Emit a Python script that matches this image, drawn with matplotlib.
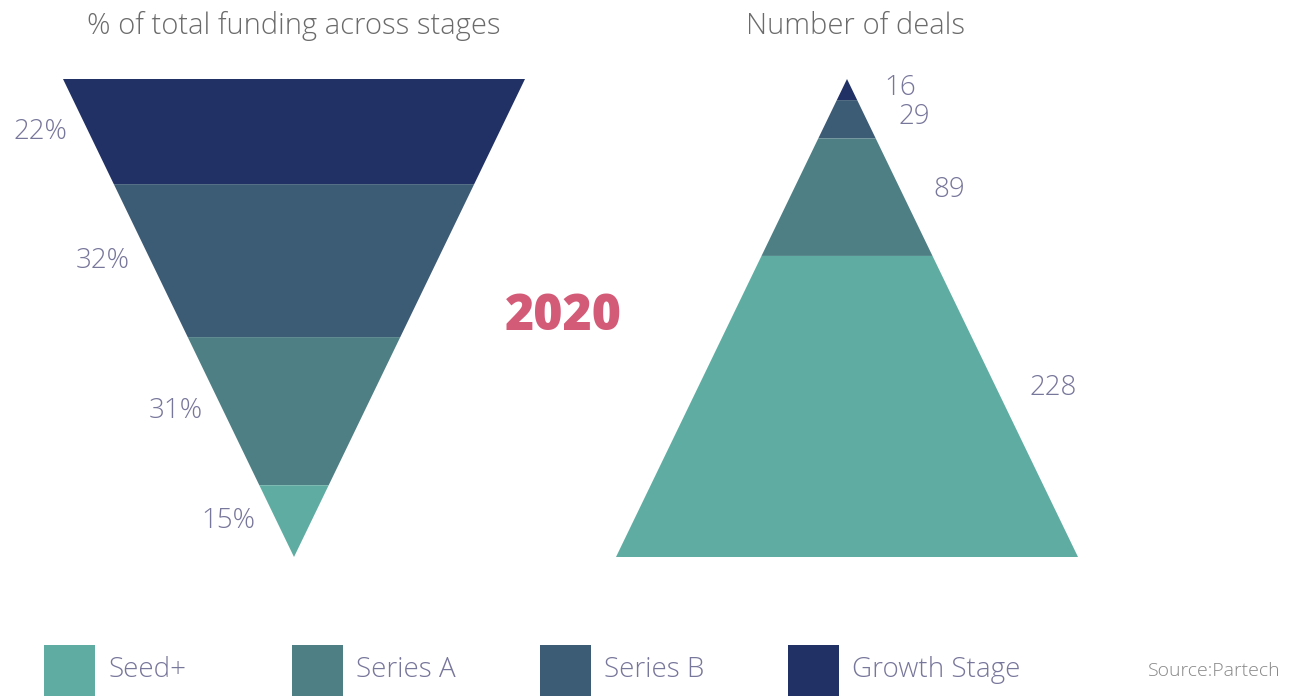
import matplotlib
matplotlib.use("Agg")
import matplotlib.pyplot as plt
import numpy as np

plt.rcParams['font.family'] = ['Open Sans', 'DejaVu Sans']

stages = ["Seed+", "Series A", "Series B", "Growth Stage"]
colors = ["#5fada2", "#4e7f85", "#3c5b74", "#213166"]
funding_pct = [15, 31, 32, 22]   # % of total funding
deals = [228, 89, 29, 16]        # number of deals

label_col = "#77769b"

fig = plt.figure(figsize=(12.93, 6.96), dpi=100)
ax = fig.add_axes([0, 0, 1, 1])
ax.set_xlim(0, 1293)
ax.set_ylim(696, 0)
ax.axis("off")

top, bottom = 79, 557

# left: inverted triangle, growth at top
cx, half = 294, 231
vals = funding_pct[::-1]
cols = colors[::-1]
edges = top + (bottom - top) * np.concatenate([[0], np.cumsum(vals)]) / sum(vals)
w = lambda y: half * (bottom - y) / (bottom - top)
for i, v in enumerate(vals):
    y0, y1 = edges[i], edges[i + 1]
    ax.fill([cx - w(y0), cx + w(y0), cx + w(y1), cx - w(y1)], [y0, y0, y1, y1],
            color=cols[i], lw=0)
    yc = (y0 + y1) / 2
    ax.text(cx - w(yc) - 21, yc, f"{v}%", ha="right", va="center",
            fontsize=20, color=label_col, fontweight="light")

# right: triangle, growth at apex
cx2, half2 = 847, 231
vals2 = deals[::-1]
edges2 = top + (bottom - top) * np.concatenate([[0], np.cumsum(vals2)]) / sum(vals2)
w2 = lambda y: half2 * (y - top) / (bottom - top)
for i, v in enumerate(vals2):
    y0, y1 = edges2[i], edges2[i + 1]
    ax.fill([cx2 - w2(y0), cx2 + w2(y0), cx2 + w2(y1), cx2 - w2(y1)], [y0, y0, y1, y1],
            color=cols[i], lw=0)
    yc = y0 + (y1 - y0) * 0.44
    ax.text(cx2 + w2(yc) + 33, yc, f"{v}", ha="left", va="center",
            fontsize=20, color=label_col, fontweight="light")

ax.text(294, 26, "% of total funding across stages", ha="center", va="center",
        fontsize=21, color="#6b6b6b", fontweight="light")
ax.text(855, 26, "Number of deals", ha="center", va="center",
        fontsize=21, color="#6b6b6b", fontweight="light")
ax.text(563, 317, "2020", ha="center", va="center", fontsize=36,
        color="#d45b78", fontweight="heavy")

# legend
for i, (s, c) in enumerate(zip(stages, colors)):
    x = 44 + i * 248
    ax.fill([x, x + 51, x + 51, x], [645, 645, 696, 696], color=c, lw=0)
    ax.text(x + 64, 670, s, ha="left", va="center", fontsize=20,
            color=label_col, fontweight="light")

ax.text(1281, 671, "Source:Partech", ha="right", va="center", fontsize=14,
        color="#888888", fontweight="light")

fig.savefig("out.png", dpi=100)
